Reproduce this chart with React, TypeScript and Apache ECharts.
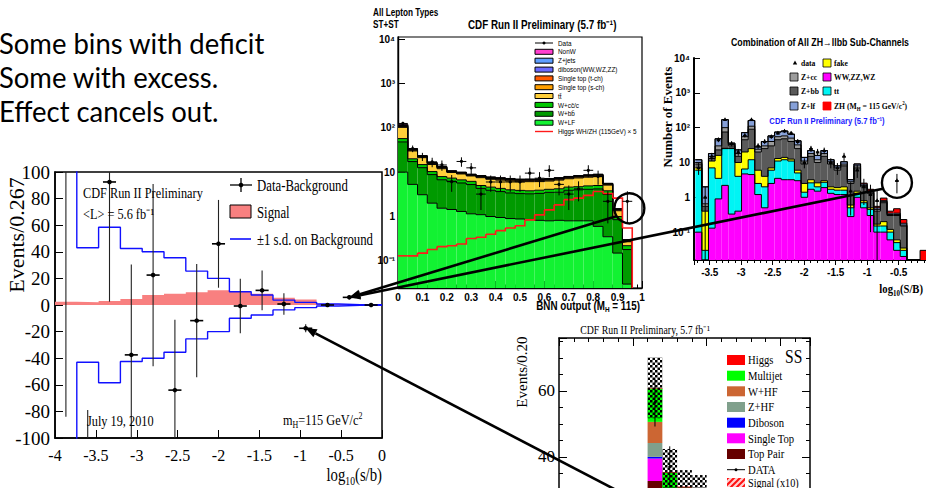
import React, { useEffect, useRef } from "react";
import * as echarts from "echarts";

const SERIF = '"Liberation Serif", "Times New Roman", serif';
const SANS = '"Liberation Sans", Arial, sans-serif';
const TALK = 'Lato, "Open Sans", sans-serif';

/* ================= Panel A : Data - Background vs log10(s/b) ================= */
const aBinStart = -4;
const aBinWidth = 4 / 15;
const aBandUp = [130, 43, 58.5, 42.5, 40, 35.5, 25.5, 20, 10, 7.5, 3.7, 2, 0.7, 0.3, 0.15];
const aBandDown = [-130, -43, -58.5, -42.5, -40, -35.5, -25.5, -20, -10, -7.5, -3.7, -2, -0.7, -0.3, -0.15];
const aSignal = [2.5, 2, 3, 4.5, 7.5, 8.5, 9.5, 11, 10, 8.5, 5.5, 4.2, 0.8, 0.3, 0.1];
const aData = [130, -180, 92.5, -37.5, 22.5, -64, -11.75, 46, -0.75, 11, 0.75, -17.5, 0, 5.75, 0];
const aErr = [214, 101, 90, 68, 68.5, 53, 42.5, 33, 20.5, 15, 8, 3, 1, 1.5, 0.8];

/* ================= Panel B : BNN output (log) ================= */
const bBinStart = 0;
const bBinWidth = 0.04;
const bWLF = [10, 5.3, 3.1, 2.0, 1.54, 1.44, 1.3, 1.15, 1.1, 1.0, 0.95, 0.9, 0.88, 0.85, 0.82, 0.8, 0.82, 0.8, 0.8, 0.8, 0.6, 0.35, 0.15, 0.03, 0];
const bWbb = [38, 12, 9.5, 6.8, 5.2, 4.8, 4.4, 4.1, 3.2, 2.9, 2.7, 2.5, 2.4, 2.4, 2.5, 2.7, 2.7, 3.1, 3.2, 3.3, 3.6, 2.8, 0.7, 0.15, 0];
const bWcc = [9, 2.7, 2.2, 1.5, 1.2, 1.1, 1.0, 0.95, 0.7, 0.7, 0.65, 0.6, 0.6, 0.55, 0.6, 0.6, 0.7, 0.7, 0.7, 0.8, 0.8, 0.65, 0.15, 0.04, 0];
const bTT = [45, 10, 6.4, 4.6, 4.0, 2.5, 2.4, 2.0, 2.5, 2.3, 2.3, 2.3, 2.2, 2.3, 2.2, 2.2, 2.4, 2.5, 2.7, 2.8, 2.9, 1.3, 0.35, 0.05, 0];
const bSTs = [5, 1.2, 0.8, 0.6, 0.5, 0.3, 0.3, 0.27, 0.3, 0.3, 0.3, 0.3, 0.3, 0.3, 0.3, 0.3, 0.3, 0.33, 0.35, 0.37, 0.4, 0.2, 0.06, 0.01, 0];
const bSTt = [4, 0.9, 0.6, 0.45, 0.4, 0.25, 0.25, 0.2, 0.25, 0.25, 0.25, 0.25, 0.24, 0.25, 0.24, 0.24, 0.25, 0.26, 0.28, 0.28, 0.3, 0.14, 0.04, 0.01, 0];
const bDiboson = [2, 0.5, 0.35, 0.25, 0.2, 0.12, 0.12, 0.1, 0.12, 0.12, 0.12, 0.12, 0.12, 0.12, 0.12, 0.12, 0.13, 0.13, 0.14, 0.14, 0.15, 0.07, 0.02, 0.005, 0];
const bZjets = [2, 0.5, 0.3, 0.2, 0.15, 0.1, 0.1, 0.1, 0.1, 0.1, 0.1, 0.1, 0.1, 0.1, 0.1, 0.1, 0.1, 0.1, 0.1, 0.1, 0.11, 0.05, 0.015, 0.003, 0];
const bNonW = [5, 0.9, 0.35, 0.3, 0.25, 0.13, 0.13, 0.13, 0.13, 0.13, 0.13, 0.13, 0.14, 0.13, 0.14, 0.14, 0.12, 0.08, 0.13, 0.11, 0.14, 0.04, 0.015, 0.002, 0];
const bHiggs = [0.13, 0.13, 0.15, 0.18, 0.21, 0.22, 0.24, 0.32, 0.34, 0.4, 0.48, 0.55, 0.62, 0.84, 1.09, 1.41, 1.83, 2.4, 2.6, 3.0, 3.65, 3.3, 2.6, 0.55, 0];
const bData = [125, 34, 22.5, 17, 14.5, 6.1, 17.4, 12.5, 3.2, 6, 6, 6, 6, 9.5, 7.3, 11, 5.3, 3.2, 4.2, 11, 8, 2.2, 0, 2.2, 0];
const bErr = [11, 5.8, 4.7, 4.1, 3.8, 2.5, 4.2, 3.5, 1.8, 2.4, 2.4, 2.4, 2.4, 3.1, 2.7, 3.3, 2.3, 1.8, 2.0, 3.3, 2.8, 1.5, 0, 1.5, 0];
const bNames = ["W+LF", "W+bb\u0304", "W+cc\u0304/c", "tt\u0304", "Single top (s-ch)", "Single top (t-ch)", "diboson(WW,WZ,ZZ)", "Z+jets", "NonW"];
const bColors = ["#12f232", "#009a00", "#00c800", "#ffcf3a", "#ff9f00", "#ff5a00", "#6a6aff", "#5f9fff", "#ff3fcf"];

/* ================= Panel C : ZH -> llbb combination (log) ================= */
const cBinStart = -3.73;
const cBinWidth = 0.105;
const cWZ = [0.1, 0.016, 0.13, 0.9, 2.2, 0.33, 0.4, 4.7, 4.5, 1.2, 0.5, 2.5, 3.5, 3.2, 3.2, 3, 1, 1.7, 1.5, 1.9, 1.3, 1.2, 1.2, 0.28, 1, 0.5, 0.3, 0.1, 0.1, 0.06, 0.03, 0.02, 0, 0, 0];
const cTT = [5.9, 0.014, 6.87, 2.6, 22.8, 24.7, 3.6, 1.8, 7.5, 1.3, 1.5, 3.5, 7.5, 8.8, 7.8, 2, 0.4, 0.9, 0.5, 0.8, 0.4, 0.4, 0.4, 0.22, 0.3, 0.2, 0.15, 0.05, 0.05, 0.04, 0.02, 0.01, 0, 0, 0];
const cFake = [1, 0.37, 4, 12.5, 0.5, 0.5, 6, 13.5, 13, 3.5, 2, 1, 2, 2, 1.5, 1, 1.1, 0.6, 0.6, 0.3, 0.3, 0.3, 0.4, 0.1, 0.2, 0.1, 0.05, 0.02, 0.05, 0.02, 0.01, 0.005, 0, 0, 0];
const cZbb = [2, 0.15, 2, 7, 49.5, 4.5, 5, 25, 65, 14, 21, 23, 32, 34, 27.5, 19, 6.5, 11.8, 7.4, 12, 7, 4.1, 6, 1.9, 5.5, 1.2, 0.8, 0.23, 0.5, 0.18, 0.24, 0.115, 0, 0, 0];
const cZcc = [1, 0.1, 2, 7, 25, 3, 3, 10, 20, 4, 5, 10, 10, 10, 10, 7, 2, 3, 2, 3, 1.5, 1, 1, 0.3, 1, 0.2, 0.1, 0.05, 0.05, 0.02, 0.02, 0.01, 0, 0, 0];
const cZlf = [2, 1.35, 3, 18, 70, 3, 5, 17, 50, 4, 10, 18, 20, 22, 15, 10, 3, 4, 4, 4, 1.5, 1, 1.5, 0.4, 1, 0.2, 0.1, 0.05, 0.05, 0.03, 0.03, 0.02, 0, 0, 0];
const cZH = [0, 0, 0, 0, 0, 0, 0, 0, 0, 0, 0, 0, 0, 0, 0, 0, 0, 0, 0, 0, 0, 0, 0, 0, 0.1, 0.15, 0.2, 0.05, 0.15, 0.05, 0.12, 0.05, 0, 0, 0.03];
const cData = [7, 1, 15, 45, 170, 35, 20, 60, 170, 30, 40, 55, 70, 80, 70, 40, 10, 25, 20, 22, 10, 7, 15, 1.5, 6, 2, 1.2, 0.8, 0, 0, 3, 0, 0, 0, 0];
const cErr = [2.6, 1, 3.9, 6.7, 13, 5.9, 4.5, 7.7, 13, 5.5, 6.3, 7.4, 8.4, 8.9, 8.4, 6.3, 3.2, 5, 4.5, 4.7, 3.2, 2.6, 3.9, 1.2, 2.4, 1.4, 1.1, 0.9, 0, 0, 1.7, 0, 0, 0, 0];
const cNames = ["WW,ZZ,WZ", "tt", "fake", "Z+bb", "Z+cc", "Z+lf", "ZH"];
const cColors = ["#ff00ff", "#00f4f4", "#ffff00", "#5a5a5a", "#9c9c9c", "#86a0d8", "#ff0000"];

/* ================= Panel D : SS channel ================= */
const dBinStart = 1.2;
const dBinWidth = 0.2;
const dTopPair = [32.7, 18, 16, 15.5];
const dSingleTop = [6.8, 3, 2.5, 2.3];
const dDiboson = [0.5, 0.3, 0.3, 0.3];
const dZHF = [4.2, 2, 2, 1.8];
const dWHF = [6.4, 4, 3.5, 3.2];
const dMultijet = [10.1, 7.9, 6.4, 6.1];
const dHiggs = [0.2, 0.2, 0.3, 0.3];
const dUnc = [9.2, 7, 5, 5];
const dData = [56.5, 37, 25, 22];
const dErr = [7.3, 6.2, 5, 4.7];
const dNames = ["Top Pair", "Single Top", "Diboson", "Z+HF", "W+HF", "Multijet", "Higgs"];
const dColors = ["#660000", "#ff00ff", "#0000ff", "#80a08c", "#cc6633", "#00ff00", "#ff0000"];

/* ================= helpers ================= */
const SUP: Record<string, string> = { "0": "⁰", "1": "¹", "2": "²", "3": "³", "4": "⁴", "5": "⁵", "6": "⁶", "7": "⁷", "8": "⁸", "9": "⁹", "-": "⁻" };
const sup = (s: string) => s.split("").map((c) => SUP[c] ?? c).join("");
const logLabel = (v: number) => {
  const l = Math.log10(v);
  const e = Math.round(l);
  if (Math.abs(l - e) > 1e-3) return "";
  if (e === 0) return "1";
  if (e === 1) return "10";
  return "10" + sup(String(e));
};
const halfLabel = (v: number) => (Math.abs(v * 2 - Math.round(v * 2)) < 1e-6 ? String(v) : "");
const visibleSSLabel = (v: number) => (v >= 30 ? String(v) : "");

function buildStack(start: number, width: number, comps: number[][], floor: number) {
  const n = comps[0].length;
  const cum = new Array(n).fill(0);
  return comps.map((c) => {
    const lo = cum.slice();
    for (let i = 0; i < n; i++) cum[i] += c[i];
    const hi = cum.slice();
    return hi.map((h, i) => [
      start + i * width,
      start + (i + 1) * width,
      Math.max(lo[i], floor),
      Math.max(h, floor),
      Math.max(i + 1 < n ? hi[i + 1] : 0, floor),
    ]);
  });
}

function layer(name: string, color: string, items: number[][], axis: number, outline: boolean) {
  return {
    type: "custom",
    name,
    xAxisIndex: axis,
    yAxisIndex: axis,
    clip: true,
    silent: true,
    z: 2,
    encode: { x: [0, 1], y: [2, 3] },
    data: items,
    renderItem: (_p: any, api: any) => {
      const x0 = api.value(0), x1 = api.value(1), lo = api.value(2), hi = api.value(3), hn = api.value(4);
      const a = api.coord([x0, lo]);
      const b = api.coord([x1, hi]);
      const c = api.coord([x1, hn]);
      const ch: any[] = [];
      if (hi > lo)
        ch.push({ type: "rect", shape: { x: a[0], y: b[1], width: b[0] - a[0], height: a[1] - b[1] }, style: { fill: color, stroke: "none" } });
      if (outline)
        ch.push({
          type: "polyline",
          z2: 10,
          shape: { points: [[a[0], b[1]], [b[0], b[1]], [c[0], c[1]]] },
          style: { stroke: "#000", lineWidth: 1, fill: "none" },
        });
      return { type: "group", children: ch };
    },
  };
}

function stepCurve(name: string, vals: number[], start: number, width: number, floor: number, axis: number, color: string) {
  const items = vals.map((v, i) => [start + i * width, start + (i + 1) * width, Math.max(v, floor), Math.max(i + 1 < vals.length ? vals[i + 1] : 0, floor)]);
  return {
    type: "custom",
    name,
    xAxisIndex: axis,
    yAxisIndex: axis,
    clip: true,
    silent: true,
    z: 2,
    encode: { x: [0, 1], y: [2] },
    data: items,
    renderItem: (_p: any, api: any) => {
      const a = api.coord([api.value(0), api.value(2)]);
      const b = api.coord([api.value(1), api.value(2)]);
      const c = api.coord([api.value(1), api.value(3)]);
      return { type: "polyline", z2: 15, shape: { points: [a, b, c] }, style: { stroke: color, lineWidth: 1.6, fill: "none" } };
    },
  };
}

function points(name: string, items: number[][], axis: number, st: any) {
  return {
    type: "custom",
    name,
    xAxisIndex: axis,
    yAxisIndex: axis,
    clip: true,
    silent: true,
    z: 3,
    encode: { x: 0, y: 1 },
    data: items,
    renderItem: (_p: any, api: any) => {
      const x = api.value(0), y = api.value(1), el = api.value(2), eh = api.value(3), hw = api.value(4);
      const lo = st.floor ? Math.max(y - el, st.floor) : y - el;
      const c = api.coord([x, y]);
      const t = api.coord([x, y + eh]);
      const b = api.coord([x, lo]);
      const l = api.coord([x - hw, y]);
      const r = api.coord([x + hw, y]);
      const ch: any[] = [
        { type: "line", shape: { x1: c[0], y1: t[1], x2: c[0], y2: b[1] }, style: { stroke: st.vColor ?? "#000", lineWidth: st.vw ?? 1, fill: "none" } },
      ];
      if (hw > 0) ch.push({ type: "line", shape: { x1: l[0], y1: c[1], x2: r[0], y2: c[1] }, style: { stroke: "#000", lineWidth: st.hwidth ?? 1, fill: "none" } });
      if (st.tri)
        ch.push({ type: "polygon", shape: { points: [[c[0], c[1] - 2.4], [c[0] - 2.1, c[1] + 1.4], [c[0] + 2.1, c[1] + 1.4]] }, style: { fill: "#000" } });
      else ch.push({ type: "circle", shape: { cx: c[0], cy: c[1], r: st.r ?? 2 }, style: { fill: "#000" } });
      return { type: "group", children: ch };
    },
  };
}

function makeChecker() {
  const c = document.createElement("canvas");
  c.width = 5;
  c.height = 5;
  const g = c.getContext("2d")!;
  g.fillStyle = "#000";
  g.fillRect(0, 0, 2.5, 2.5);
  g.fillRect(2.5, 2.5, 2.5, 2.5);
  return c;
}
function makeHatch() {
  const c = document.createElement("canvas");
  c.width = 6;
  c.height = 6;
  const g = c.getContext("2d")!;
  g.fillStyle = "#ffd0d0";
  g.fillRect(0, 0, 6, 6);
  g.strokeStyle = "#ff1010";
  g.lineWidth = 2;
  g.beginPath();
  g.moveTo(-1, 7);
  g.lineTo(7, -1);
  g.moveTo(-1, 1);
  g.lineTo(1, -1);
  g.moveTo(5, 7);
  g.lineTo(7, 5);
  g.stroke();
  return c;
}

const noSplit = { show: false };
const blackLine = (w: number) => ({ show: true, onZero: false, lineStyle: { color: "#000", width: w } });

function buildOption(checker: HTMLCanvasElement) {
  const series: any[] = [];
  const stepPts = (vals: number[]) => [
    ...vals.map((v, i) => [aBinStart + i * aBinWidth, v]),
    [aBinStart + vals.length * aBinWidth, vals[vals.length - 1]],
  ];
  // ---- Panel A
  series.push({
    type: "line", name: "Signal", xAxisIndex: 0, yAxisIndex: 0, step: "end", symbol: "none", z: 1, silent: true,
    data: stepPts(aSignal), lineStyle: { width: 0, color: "#f88080" }, itemStyle: { color: "#f88080" },
    areaStyle: { color: "#f88080", opacity: 1 },
  });
  series.push({
    type: "line", name: "±1 s.d. on Background", xAxisIndex: 0, yAxisIndex: 0, step: "end", symbol: "none", z: 2, silent: true,
    data: stepPts(aBandUp), lineStyle: { width: 1.4, color: "#1010ff" }, itemStyle: { color: "#1010ff" },
  });
  series.push({
    type: "line", name: "±1 s.d. on Background (low)", xAxisIndex: 0, yAxisIndex: 0, step: "end", symbol: "none", z: 2, silent: true,
    data: stepPts(aBandDown), lineStyle: { width: 1.4, color: "#1010ff" }, itemStyle: { color: "#1010ff" },
  });
  const aIdx = series.length;
  series.push(
    points("Data-Background", aData.map((v, i) => [aBinStart + (i + 0.5) * aBinWidth, v, aErr[i], aErr[i], 0.08]), 0, {
      vColor: "#222", vw: 1.1, hwidth: 1.6, r: 2.3,
    })
  );

  // ---- Panel B
  const bFloor = 0.01;
  buildStack(bBinStart, bBinWidth, [bWLF, bWbb, bWcc, bTT, bSTs, bSTt, bDiboson, bZjets, bNonW], bFloor).forEach((items, k) =>
    series.push(layer(bNames[k], bColors[k], items, 1, true))
  );
  series.push(stepCurve("Higgs WH/ZH (115GeV) × 5", bHiggs, bBinStart, bBinWidth, bFloor, 1, "#ff1a1a"));
  const bIdx = series.length;
  series.push(
    points(
      "Data",
      bData.map((v, i) => [bBinStart + (i + 0.5) * bBinWidth, v, bErr[i], bErr[i], bBinWidth / 2]).filter((d) => d[1] > 0),
      1,
      { floor: bFloor, r: 1.6 }
    )
  );

  // ---- Panel C
  const cFloor = 0.008;
  buildStack(cBinStart, cBinWidth, [cWZ, cTT, cFake, cZbb, cZcc, cZlf, cZH], cFloor).forEach((items, k) =>
    series.push(layer(cNames[k], cColors[k], items, 2, true))
  );
  const cIdx = series.length;
  series.push(
    points(
      "data",
      cData.map((v, i) => [cBinStart + (i + 0.5) * cBinWidth, v, cErr[i], cErr[i], 0.03]).filter((d) => d[1] > 0),
      2,
      { floor: cFloor, tri: true }
    )
  );

  // ---- Panel D
  buildStack(dBinStart, dBinWidth, [dTopPair, dSingleTop, dDiboson, dZHF, dWHF, dMultijet, dHiggs], 0).forEach((items, k) =>
    series.push(layer(dNames[k], dColors[k], items, 3, false))
  );
  const dTotals = dTopPair.map((v, i) => v + dSingleTop[i] + dDiboson[i] + dZHF[i] + dWHF[i] + dMultijet[i] + dHiggs[i]);
  series.push({
    type: "custom", name: "Uncertainty", xAxisIndex: 3, yAxisIndex: 3, clip: true, silent: true, z: 2,
    encode: { x: [0, 1], y: [2, 3] },
    data: dTotals.map((t, i) => [dBinStart + i * dBinWidth, dBinStart + (i + 1) * dBinWidth, t - dUnc[i], t + dUnc[i]]),
    renderItem: (_p: any, api: any) => {
      const a = api.coord([api.value(0), api.value(2)]);
      const b = api.coord([api.value(1), api.value(3)]);
      return {
        type: "rect", z2: 5,
        shape: { x: a[0], y: b[1], width: b[0] - a[0], height: a[1] - b[1] },
        style: { fill: { image: checker, repeat: "repeat", imageWidth: 5, imageHeight: 5 }, stroke: "none" },
      };
    },
  });
  const dIdx = series.length;
  series.push(points("DATA", dData.map((v, i) => [dBinStart + (i + 0.5) * dBinWidth, v, dErr[i], dErr[i], 0]), 3, { r: 1.4 }));

  const gridBase = { outerBoundsMode: "none", containLabel: false };
  const option: any = {
    animation: false,
    backgroundColor: "#fff",
    grid: [
      { ...gridBase, left: 55, top: 172, width: 327, height: 266, show: true, borderColor: "#000", borderWidth: 1.5, backgroundColor: "transparent" },
      { ...gridBase, left: 398, top: 37, width: 244, height: 251, show: true, borderColor: "#000", borderWidth: 1.2, backgroundColor: "transparent" },
      { ...gridBase, left: 694, top: 58, width: 233, height: 202 },
      { ...gridBase, left: 559, top: 338, width: 251, height: 251 },
    ],
    xAxis: [
      {
        gridIndex: 0, type: "value", min: -4, max: 0, interval: 0.5, axisLine: blackLine(1.5),
        axisTick: { show: true, inside: true, length: 8, lineStyle: { color: "#000" } },
        axisLabel: { color: "#000", fontFamily: SERIF, fontSize: 16, margin: 9 }, splitLine: noSplit,
      },
      {
        gridIndex: 1, type: "value", min: 0, max: 1, interval: 0.1, axisLine: blackLine(1.4),
        axisTick: { show: true, inside: true, length: 7, lineStyle: { color: "#000" } },
        minorTick: { show: true, splitNumber: 5, length: 3.5, lineStyle: { color: "#000" } },
        axisLabel: { color: "#000", fontFamily: SANS, fontWeight: "bold", fontSize: 10, margin: 4 }, splitLine: noSplit,
      },
      {
        gridIndex: 2, type: "value", min: -3.75, max: -0.05, splitNumber: 7, axisLine: blackLine(2),
        axisTick: { show: true, inside: false, length: 5, lineStyle: { color: "#000" } },
        minorTick: { show: true, splitNumber: 5, length: 3, lineStyle: { color: "#000" } },
        axisLabel: { color: "#000", fontFamily: SANS, fontWeight: "bold", fontSize: 10, margin: 7, formatter: halfLabel }, splitLine: noSplit,
      },
      {
        gridIndex: 3, type: "value", min: 0, max: 3.4, interval: 1, axisLine: blackLine(1.5),
        axisTick: { show: true, inside: true, length: 8 }, axisLabel: { show: false }, splitLine: noSplit,
      },
      {
        gridIndex: 3, type: "value", position: "top", min: 0, max: 3.4, interval: 1, axisLine: blackLine(1.5),
        axisTick: { show: true, inside: true, length: 8, lineStyle: { color: "#000" } },
        minorTick: { show: true, splitNumber: 5, length: 4, lineStyle: { color: "#000" } },
        axisLabel: { show: false }, splitLine: noSplit,
      },
    ],
    yAxis: [
      {
        gridIndex: 0, type: "value", min: -100, max: 100, interval: 20, axisLine: blackLine(1.5),
        axisTick: { show: true, inside: true, length: 8, lineStyle: { color: "#000" } },
        axisLabel: { color: "#000", fontFamily: SERIF, fontSize: 19, margin: 5 }, splitLine: noSplit,
      },
      {
        gridIndex: 1, type: "log", logBase: 10, min: 0.0245, max: 11100, axisLine: blackLine(1.4),
        axisTick: { show: true, inside: true, length: 7, lineStyle: { color: "#000" } },
        axisLabel: { color: "#000", fontFamily: SANS, fontWeight: "bold", fontSize: 10, margin: 3, formatter: logLabel, showMinLabel: false, showMaxLabel: false },
        splitLine: noSplit,
      },
      {
        gridIndex: 2, type: "log", logBase: 10, min: 0.01585, max: 10000, axisLine: blackLine(2),
        axisTick: { show: true, inside: true, length: 6, lineStyle: { color: "#000" } },
        axisLabel: { color: "#000", fontFamily: SANS, fontWeight: "bold", fontSize: 10, margin: 4, formatter: logLabel, showMinLabel: false },
        splitLine: noSplit,
      },
      {
        gridIndex: 3, type: "value", min: 0, max: 76, interval: 20, axisLine: blackLine(1.5),
        axisTick: { show: true, inside: true, length: 8, lineStyle: { color: "#000" } },
        minorTick: { show: true, splitNumber: 4, length: 4, lineStyle: { color: "#000" } },
        axisLabel: { color: "#000", fontFamily: SERIF, fontSize: 17, margin: 4, showMaxLabel: false, showMinLabel: false, formatter: visibleSSLabel },
        splitLine: noSplit,
      },
      {
        gridIndex: 3, type: "value", position: "right", min: 0, max: 76, interval: 20, axisLine: blackLine(1.5),
        axisTick: { show: true, inside: true, length: 8, lineStyle: { color: "#000" } },
        minorTick: { show: true, splitNumber: 4, length: 4, lineStyle: { color: "#000" } },
        axisLabel: { show: false }, splitLine: noSplit,
      },
    ],
    series,
  };
  return { option, idx: { aIdx, bIdx, cIdx, dIdx } };
}

type TO = { fs?: number; ff?: string; fw?: string; color?: string; align?: string; va?: string; sx?: number; rot?: number; rich?: any };
function txt(x: number, y: number, text: string, o: TO = {}) {
  const align = o.align ?? "left";
  const va = o.va ?? "middle";
  return {
    type: "text", x, y, rotation: o.rot ?? 0, scaleX: o.sx ?? 0.82, z: 100, silent: true,
    style: {
      text, x: 0, y: 0, fontSize: o.fs ?? 12, fontFamily: o.ff ?? SERIF, fontWeight: o.fw ?? "normal", fill: o.color ?? "#000",
      align, verticalAlign: va, textAlign: align, textVerticalAlign: va, rich: o.rich,
    },
  };
}
function richFor(ff: string, fs: number, fw = "normal") {
  return {
    n: { fontFamily: ff, fontSize: fs, fontWeight: fw, lineHeight: fs * 1.3 },
    s: { fontFamily: ff, fontSize: fs * 0.65, fontWeight: fw, verticalAlign: "bottom", lineHeight: fs * 0.7 },
    p: { fontFamily: ff, fontSize: fs * 0.65, fontWeight: fw, verticalAlign: "top", lineHeight: fs * 0.7 },
  };
}
const L = (x1: number, y1: number, x2: number, y2: number, stroke: string, lineWidth: number) => ({
  type: "line", z: 100, silent: true, shape: { x1, y1, x2, y2 }, style: { stroke, lineWidth },
});
const R = (x: number, y: number, w: number, h: number, fill: any, stroke = "#000", lw = 1) => ({
  type: "rect", z: 100, silent: true, shape: { x, y, width: w, height: h }, style: { fill, stroke, lineWidth: lw },
});

function arrow(tail: number[], head: number[]) {
  const dx = head[0] - tail[0], dy = head[1] - tail[1];
  const len = Math.hypot(dx, dy);
  const ux = dx / len, uy = dy / len;
  const bx = head[0] - ux * 11, by = head[1] - uy * 11;
  const nx = -uy, ny = ux;
  return [
    L(tail[0], tail[1], bx, by, "#000", 2.6),
    { type: "polygon", z: 101, silent: true, shape: { points: [head, [bx + nx * 4.5, by + ny * 4.5], [bx - nx * 4.5, by - ny * 4.5]] }, style: { fill: "#000" } },
  ];
}

function buildGraphics(chart: any, idx: any, hatch: HTMLCanvasElement) {
  const px = (si: number, x: number, y: number) => chart.convertToPixel({ seriesIndex: si }, [x, y]) as number[];
  const g: any[] = [];

  // ---- Talk text
  g.push(txt(-1, 43, "Some bins with deficit", { ff: TALK, fs: 28, sx: 0.98 }));
  g.push(txt(-1, 77, "Some with excess.", { ff: TALK, fs: 28, sx: 0.98 }));
  g.push(txt(-1, 111, "Effect cancels out.", { ff: TALK, fs: 28, sx: 0.98 }));

  // ---- Panel A texts & legend
  g.push(txt(83, 193, "CDF Run II Preliminary", { fs: 15 }));
  g.push(txt(83, 214, "<L> = 5.6 fb⁻¹", { fs: 15 }));
  g.push(txt(87, 421, "July 19, 2010", { fs: 15 }));
  g.push(txt(283, 420, "{n|m}{s|H}{n|=115 GeV/c}{p|2}", { fs: 15, rich: richFor(SERIF, 15) }));
  g.push(L(230, 185, 252, 185, "#000", 1.3), L(241, 178, 241, 192, "#000", 1.3), { type: "circle", z: 100, shape: { cx: 241, cy: 185, r: 2.3 }, style: { fill: "#000" } });
  g.push(txt(257, 185, "Data-Background", { fs: 16, sx: 0.8 }));
  g.push(R(230, 205, 21, 13, "#f88080", "#000", 1));
  g.push(txt(257, 212, "Signal", { fs: 16, sx: 0.8 }));
  g.push(L(230, 239, 251, 239, "#1010ff", 1.6));
  g.push(txt(257, 239, "±1 s.d. on Background", { fs: 16, sx: 0.8 }));
  g.push(txt(16, 235, "Events/0.267", { fs: 22, rot: Math.PI / 2, align: "center", sx: 1 }));
  g.push(txt(382, 475, "{n|log}{s|10}{n|(s/b)}", { fs: 18, align: "right", rich: richFor(SERIF, 18) }));

  // ---- Panel B texts & legend
  g.push(txt(373, 13, "All Lepton Types", { ff: SANS, fw: "bold", fs: 10 }));
  g.push(txt(373, 25, "ST+ST", { ff: SANS, fw: "bold", fs: 10 }));
  g.push(txt(468, 25, "CDF Run II Preliminary (5.7 fb⁻¹)", { ff: SANS, fw: "bold", fs: 12 }));
  g.push(txt(640, 306, "{n|BNN output (M}{s|H}{n| = 115)}", { ff: SANS, fw: "bold", fs: 12, align: "right", rich: richFor(SANS, 12, "bold") }));
  const bRows = [43, 51.8, 60.7, 69.6, 78.4, 87.2, 96, 104.9, 113.8, 122.7, 131.5];
  g.push(L(535, bRows[0], 553, bRows[0], "#000", 1), { type: "circle", z: 100, shape: { cx: 544, cy: bRows[0], r: 1.5 }, style: { fill: "#000" } });
  g.push(txt(558, bRows[0], "Data", { ff: SANS, fs: 7.5, sx: 0.85 }));
  for (let k = 0; k < 9; k++) {
    const comp = 8 - k;
    const y = bRows[k + 1];
    g.push(R(535, y - 2.5, 18, 5, bColors[comp], "#000", 1));
    g.push(txt(558, y, bNames[comp], { ff: SANS, fs: 7.5, sx: 0.85 }));
  }
  g.push(L(535, bRows[10], 553, bRows[10], "#ff1a1a", 1.4));
  g.push(txt(558, bRows[10], "Higgs WH/ZH (115GeV) × 5", { ff: SANS, fs: 7.5, sx: 0.85 }));

  // ---- Panel C texts & legend
  g.push(txt(820, 42, "Combination of All ZH→llbb Sub-Channels", { ff: SANS, fw: "bold", fs: 11, align: "center", sx: 0.8 }));
  g.push({ type: "polygon", z: 100, shape: { points: [[795, 60.5], [792.8, 64.5], [797.2, 64.5]] }, style: { fill: "#000" } });
  g.push(txt(801, 63, "data", { fw: "bold", fs: 9, sx: 0.85 }));
  const cLeft = [[77, 4], [91, 3], [106, 5]];
  cLeft.forEach(([y, c]) => {
    g.push(R(790, y - 4, 8, 8, cColors[c], "#000", 0.8));
    g.push(txt(801, y, cNames[c], { fw: "bold", fs: 9, sx: 0.85 }));
  });
  const cRight = [[63, 2], [77, 0], [91, 1]];
  cRight.forEach(([y, c]) => {
    g.push(R(823, y - 4, 8, 8, cColors[c], "#000", 0.8));
    g.push(txt(834, y, cNames[c], { fw: "bold", fs: 9, sx: 0.85 }));
  });
  g.push(R(823, 102, 8, 8, cColors[6], "#ff0000", 0.8));
  g.push(txt(834, 106, "{n|ZH (M}{s|H}{n| = 115 GeV/c}{p|2}{n|)}", { fw: "bold", fs: 9, sx: 0.85, rich: richFor(SERIF, 9, "bold") }));
  g.push(txt(827, 121, "CDF Run II Preliminary (5.7 fb⁻¹)", { ff: SANS, fw: "bold", fs: 9, align: "center", color: "#1a1aff", sx: 0.85 }));
  g.push(txt(923, 289, "{n|log}{s|10}{n|(S/B)}", { fw: "bold", fs: 13, align: "right", rich: richFor(SERIF, 13, "bold") }));
  g.push(txt(667, 117, "Number of Events", { fw: "bold", fs: 13, rot: Math.PI / 2, align: "center", sx: 1 }));

  // ---- Panel D texts & legend
  g.push(txt(645, 330, "CDF Run II Preliminary, 5.7 fb⁻¹", { fs: 12, align: "center" }));
  g.push(txt(522, 372, "Events/0.20", { fs: 15, rot: Math.PI / 2, align: "center", sx: 1 }));
  g.push(txt(785, 357, "SS", { fs: 19 }));
  const dRows = [360, 375.7, 391.3, 407, 422.7, 438.3, 454];
  for (let k = 0; k < 7; k++) {
    const comp = 6 - k;
    g.push(R(727, dRows[k] - 5, 18, 10, dColors[comp], "none", 0));
    g.push(txt(748, dRows[k], dNames[comp], { fs: 13, sx: 0.82 }));
  }
  g.push(L(727, 469.7, 745, 469.7, "#000", 1), { type: "circle", z: 100, shape: { cx: 736, cy: 469.7, r: 1.5 }, style: { fill: "#000" } });
  g.push(txt(748, 469.7, "DATA", { fs: 13, sx: 0.82 }));
  g.push(R(727, 478, 18, 9, { image: hatch, repeat: "repeat", imageWidth: 6, imageHeight: 6 }, "none", 0));
  g.push(txt(748, 482.5, "Signal (x10)", { fs: 12, sx: 0.85 }));

  // ---- arrows and circles
  const headA = px(idx.aIdx, aBinStart + 13.5 * aBinWidth, aData[13]);
  const headB = px(idx.aIdx, aBinStart + 11.5 * aBinWidth, aData[11]);
  const bPt = px(idx.bIdx, bBinStart + 23.5 * bBinWidth, bData[23]);
  const cPt = px(idx.cIdx, cBinStart + 30.5 * cBinWidth, cData[30]);
  const bCircle = [bPt[0] + 2, bPt[1] + 7];
  const cCircle = [cPt[0], cPt[1] + 2];
  g.push({ type: "circle", z: 100, silent: true, shape: { cx: bCircle[0], cy: bCircle[1], r: 15 }, style: { fill: "none", stroke: "#000", lineWidth: 2.4 } });
  g.push({ type: "circle", z: 100, silent: true, shape: { cx: cCircle[0], cy: cCircle[1], r: 15 }, style: { fill: "none", stroke: "#000", lineWidth: 2.4 } });
  g.push(...arrow([bCircle[0] - 13, bCircle[1] + 8], headA));
  g.push(...arrow([cCircle[0] - 14, cCircle[1] + 6], headA));
  g.push(...arrow(px(idx.dIdx, 1.2, 25), headB));
  return g;
}

export default function App() {
  const ref = useRef<HTMLDivElement>(null);
  useEffect(() => {
    document.body.style.margin = "0";
    const chart = echarts.init(ref.current!, null, { renderer: "svg" });
    const checker = makeChecker();
    const hatch = makeHatch();
    const { option, idx } = buildOption(checker);
    chart.setOption(option);
    chart.setOption({ graphic: buildGraphics(chart, idx, hatch) });
    return () => chart.dispose();
  }, []);
  return <div ref={ref} style={{ width: 926, height: 488, overflow: "hidden" }} />;
}
